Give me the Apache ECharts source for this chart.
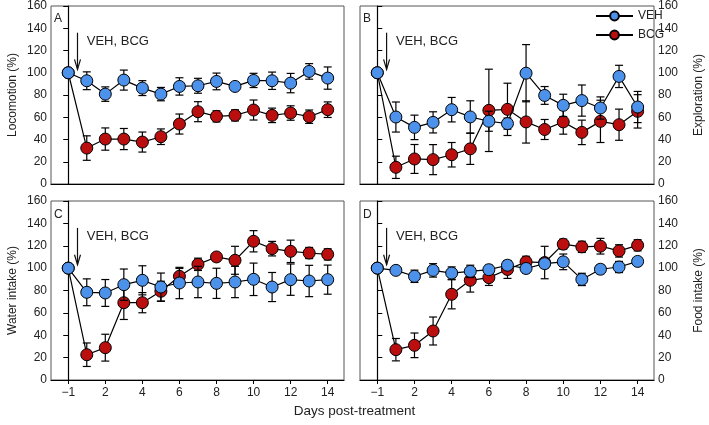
<!DOCTYPE html>
<html><head><meta charset="utf-8">
<script src="https://cdn.jsdelivr.net/npm/echarts@6/dist/echarts.min.js"></script>
<style>html,body{margin:0;padding:0;background:#fff}#c{width:709px;height:425px}</style>
</head><body><div id="c"></div>
<script>
const days = ['\u22121','1','2','3','4','5','6','7','8','9','10','11','12','13','14'];
const xTickLabels = ['\u22121','2','4','6','8','10','12','14'];
const yTicks = [0,20,40,60,80,100,120,140,160];

const locVeh = [100, 92.8, 80.8, 93.4, 86.2, 80.8, 87.7, 88.3, 92.2, 87.7, 93.1, 92.8, 90.7, 101.2, 95.2];
const locVehErr = [0, 8, 6.5, 9, 6.7, 6, 7.8, 6.7, 7.5, 3, 6.4, 7.8, 8.7, 7, 10];
const locBcg = [100, 32.3, 40.4, 40.4, 37.7, 42.5, 53.9, 65, 60.8, 61.7, 66.5, 61.7, 63.8, 60.5, 66.8];
const locBcgErr = [0, 11, 10, 9.5, 9, 7, 9, 9, 5, 5, 9, 6.5, 6.5, 6, 7];

const expVeh = [100, 60.2, 50.9, 55.4, 66.8, 60.3, 56.4, 54.3, 99.6, 79.6, 70.7, 75, 68.3, 96.7, 69.2];
const expVehErr = [0, 13.5, 11, 9.5, 11, 14.5, 9, 5, 25.7, 8, 10, 14, 10, 10, 14];
const expBcg = [100, 15, 22.5, 21.9, 26.3, 31.6, 66.2, 67.1, 55.8, 49, 55.8, 46.4, 56.3, 53.3, 65.3];
const expBcgErr = [0, 10, 13, 13.5, 11, 14, 37, 23.5, 19, 9, 11, 11, 19, 14, 15];

const watVeh = [100, 78.4, 77.8, 85.2, 89.1, 83.1, 86.7, 87.6, 86.4, 87.6, 90, 83.1, 89.7, 88.5, 89.7];
const watVehErr = [0, 12, 12, 14, 13, 12.5, 14, 14, 13.5, 14, 14.5, 13, 14, 14, 13];
const watBcg = [100, 22.6, 28.9, 69.1, 69.1, 79.3, 92.7, 103.4, 110, 107, 124, 117.4, 115, 113.5, 112.3];
const watBcgErr = [0, 10.5, 12, 15, 9, 9, 7, 5.5, 2.5, 12.5, 9.5, 6.5, 10, 5, 5];

const fooVeh = [100, 98, 92.7, 98, 95.6, 97.1, 98.6, 102.6, 99.7, 104, 105.6, 89.9, 99, 101, 106];
const fooVehErr = [0, 2, 5.5, 6, 5.5, 5.5, 4, 4, 4, 4, 7, 5.5, 4, 5, 3];
const fooBcg = [100, 27.1, 31, 43.8, 76.6, 89.1, 91.5, 98.8, 105.6, 105, 121.4, 119, 119.6, 115.4, 120.4];
const fooBcgErr = [0, 10, 11, 12.5, 13, 10.5, 7, 8, 5, 14.5, 4.5, 5, 7, 5.5, 5];

const panelLetters = ['A','B','C','D'];
const yNames = ['Locomotion (%)','Exploration (%)','Water intake (%)','Food intake (%)'];
const annotText = 'VEH, BCG';

const FONT = '"Liberation Sans", Arial, sans-serif';
const BLUE = '#4d92ea';
const RED = '#bb0f0f';

const panels = [
  {veh: locVeh, vehErr: locVehErr, bcg: locBcg, bcgErr: locBcgErr},
  {veh: expVeh, vehErr: expVehErr, bcg: expBcg, bcgErr: expBcgErr},
  {veh: watVeh, vehErr: watVehErr, bcg: watBcg, bcgErr: watBcgErr},
  {veh: fooVeh, vehErr: fooVehErr, bcg: fooBcg, bcgErr: fooBcgErr}
];
const gridPos = [
  {left: 51, top: 5, width: 293, height: 179},
  {left: 360, top: 5, width: 294, height: 179},
  {left: 51, top: 201, width: 293, height: 179},
  {left: 360, top: 201, width: 294, height: 179}
];

const xIdxOfLabel = lab => days.indexOf(lab);
const tickIdx = xTickLabels.map(xIdxOfLabel);

const grids = [], xAxes = [], yAxes = [], series = [];

function errRender(params, api) {
  const x = api.value(0), y = api.value(1), e = api.value(2);
  if (!e) return null;
  const t = api.coord([x, y + e]), b = api.coord([x, y - e]);
  const w = 4;
  const st = {stroke: '#000', lineWidth: 1.2};
  return {type: 'group', children: [
    {type: 'line', shape: {x1: t[0], y1: t[1], x2: b[0], y2: b[1]}, style: st},
    {type: 'line', shape: {x1: t[0]-w, y1: t[1], x2: t[0]+w, y2: t[1]}, style: st},
    {type: 'line', shape: {x1: b[0]-w, y1: b[1], x2: b[0]+w, y2: b[1]}, style: st}
  ]};
}
function annotRender(params, api) {
  const ax = api.value(0), yTop = api.value(1), yBot = api.value(2), tx = api.value(3), ty = api.value(4);
  const p1 = api.coord([ax, yTop]), p2 = api.coord([ax, yBot]), pt = api.coord([tx, ty]);
  const st = {stroke: '#111', lineWidth: 1.2};
  return {type: 'group', children: [
    {type: 'line', shape: {x1: p1[0], y1: p1[1], x2: p2[0], y2: p2[1]}, style: st},
    {type: 'polyline', shape: {points: [[p2[0]-3, p2[1]-10], [p2[0], p2[1]], [p2[0]+3, p2[1]-10]]}, style: {stroke: '#111', lineWidth: 1.2, fill: null}},
    {type: 'text', style: {text: annotText, x: pt[0], y: pt[1], fill: '#222', font: '13px ' + FONT, align: 'left', verticalAlign: 'middle'}}
  ]};
}

panels.forEach((p, g) => {
  const isRight = (g % 2 === 1);
  const isBottom = g >= 2;
  grids.push(Object.assign({show: true, borderColor: '#555', borderWidth: 1, backgroundColor: 'transparent'}, gridPos[g]));
  xAxes.push({
    type: 'value', gridIndex: g, min: -0.93, max: 14.88,
    axisLine: {show: true, onZero: false, lineStyle: {color: '#000', width: 1.2}},
    axisTick: {show: isBottom, length: 4, lineStyle: {color: '#000'}, customValues: tickIdx},
    axisLabel: {show: isBottom, customValues: tickIdx, formatter: v => days[Math.round(v)], fontSize: 12, fontFamily: FONT, color: '#222', margin: 7},
    splitLine: {show: false}
  });
  yAxes.push({
    type: 'value', gridIndex: g, min: 0, max: 160, interval: 20,
    position: isRight ? 'right' : 'left',
    name: yNames[g], nameLocation: 'middle', nameRotate: 90, nameGap: isRight ? 39 : 32,
    nameTextStyle: {fontSize: 12, fontFamily: FONT, color: '#222'},
    axisLine: {show: true, lineStyle: {color: '#000', width: 1.2}},
    axisTick: {show: true, length: 5, lineStyle: {color: '#000'}},
    axisLabel: {fontSize: 12, fontFamily: FONT, color: '#222', margin: 4},
    splitLine: {show: false}
  });
  const mk = (vals, errs, name, color, zb) => {
    series.push({
      type: 'custom', name: name + ' err', xAxisIndex: g, yAxisIndex: g, clip: false, z: zb,
      renderItem: errRender, silent: true,
      data: vals.map((v, i) => [i, v, errs[i]])
    });
    series.push({
      type: 'line', name: name, xAxisIndex: g, yAxisIndex: g, z: zb + 1,
      symbol: 'circle', symbolSize: 12, showSymbol: true,
      itemStyle: {color: color, borderColor: '#000', borderWidth: 1},
      lineStyle: {color: '#000', width: 1.2},
      animation: false,
      data: vals.map((v, i) => [i, v])
    });
  };
  mk(p.bcg, p.bcgErr, 'BCG', RED, 2);
  mk(p.veh, p.vehErr, 'VEH', BLUE, 4);
  series.push({
    type: 'custom', name: 'annot', xAxisIndex: g, yAxisIndex: g, clip: false, z: 10, silent: true,
    renderItem: annotRender,
    data: [[0.5, 136, 103, 1.0, 128]]
  });
});

const graphics = panelLetters.map((L, g) => ({
  type: 'text', left: gridPos[g].left + 3, top: gridPos[g].top + 8,
  style: {text: L, font: '12px ' + FONT, fill: '#222'}
}));

const chart = echarts.init(document.getElementById('c'), null, {renderer: 'canvas'});
chart.setOption({
  animation: false,
  backgroundColor: '#fff',
  title: {text: 'Days post-treatment', left: 'center', top: 404, padding: 0,
    textStyle: {fontSize: 13.5, fontWeight: 'normal', fontFamily: FONT, color: '#222'}},
  legend: {data: ['VEH', 'BCG'], orient: 'vertical', left: 595, top: 10, padding: 0,
    itemWidth: 37, itemHeight: 11, itemGap: 7,
    textStyle: {fontSize: 12, fontFamily: FONT, color: '#222'}},
  grid: grids, xAxis: xAxes, yAxis: yAxes, series: series,
  graphic: graphics
});
</script></body></html>
